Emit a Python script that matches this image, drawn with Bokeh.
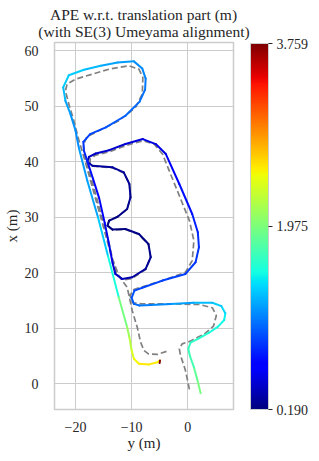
import numpy as np
from bokeh.plotting import figure
from bokeh.layouts import column
from bokeh.models import (ColumnDataSource, LinearColorMapper, ColorBar, FixedTicker,
                          PrintfTickFormatter, Spacer)
from bokeh.embed import file_html
from bokeh.resources import INLINE

# ---------------- data ----------------
# estimated trajectory: horizontal = y (m), vertical = x (m), APE error (m)
est_y = [2.3, 1.7, 1.1, 0.4, 0.1, 0.5, 2.0, 3.8, 5.4, 6.5, 6.7, 6.0, 4.4, 1.0, -3.0, -6.5,
         -8.6, -9.6, -10.0, -9.5, -8.1, -4.5, -0.4, 1.4, 2.0, 1.8, 0.8, -1.5, -3.9, -5.7,
         -8.0, -11.1, -14.0, -16.4, -17.6, -17.9, -17.0, -13.4, -11.4, -10.4, -10.2, -10.8,
         -12.5, -14.0, -14.3, -13.4, -11.1, -8.7, -7.0, -6.6, -7.5, -9.9, -11.7, -12.9,
         -13.4, -14.0, -14.8, -15.8, -16.9, -17.8, -18.5, -18.6, -17.4, -14.6, -11.1, -8.6,
         -7.6, -7.5, -8.1, -9.6, -12.5, -15.5, -18.5, -21.2, -22.2, -21.8, -20.9, -20.0, -19.4,
         -17.9, -16.0, -14.2, -12.3, -10.8, -10.4, -10.0, -9.6, -8.7, -6.9, -5.4, -4.95, -5.0]
est_x = [-1.7, 0.8, 3.0, 5.0, 6.3, 7.4, 8.2, 9.2, 10.3, 11.5, 12.7, 14.0, 14.6, 14.6, 14.4,
         14.2, 14.1, 14.4, 15.5, 16.8, 17.3, 18.6, 19.8, 21.9, 24.6, 27.3, 30.6, 36.0, 41.4,
         43.2, 44.1, 43.2, 42.1, 41.5, 40.9, 40.0, 39.3, 39.0, 38.1, 36.0, 33.6, 31.5, 30.1,
         29.4, 28.5, 27.8, 27.9, 27.0, 25.2, 22.8, 20.7, 19.2, 18.9, 19.8, 21.8, 25.0, 29.0,
         33.5, 37.0, 39.8, 42.0, 43.6, 45.0, 46.2, 48.3, 50.8, 53.0, 55.0, 56.8, 58.1, 57.9,
         57.3, 56.6, 55.6, 53.4, 51.0, 48.6, 45.6, 42.5, 36.6, 30.0, 23.0, 15.6, 10.2, 8.4,
         6.0, 4.5, 3.6, 3.5, 3.9, 4.2, 3.75]
ape = [2.05, 1.95, 1.85, 1.75, 1.7, 1.68, 1.65, 1.6, 1.55, 1.52, 1.48, 1.4, 1.35, 1.3, 1.2,
       1.12, 1.08, 1.02, 0.95, 0.93, 0.9, 0.88, 0.86, 0.84, 0.82, 0.8, 0.75, 0.68, 0.58, 0.52,
       0.5, 0.48, 0.45, 0.43, 0.4, 0.38, 0.33, 0.3, 0.28, 0.27, 0.26, 0.25, 0.23, 0.21, 0.2,
       0.19, 0.2, 0.22, 0.23, 0.24, 0.26, 0.3, 0.35, 0.4, 0.45, 0.5, 0.55, 0.6, 0.65, 0.7,
       0.75, 0.82, 0.85, 0.9, 0.95, 1.0, 1.03, 1.06, 1.1, 1.13, 1.18, 1.22, 1.28, 1.35, 1.36,
       1.3, 1.22, 1.16, 1.13, 1.18, 1.22, 1.35, 1.55, 1.95, 2.1, 2.25, 2.38, 2.5, 2.55, 2.55,
       2.5, 3.759]

# reference trajectory
ref_y = [0.3, -0.4, -1.3, -1.5, -1.0, 0.5, 3.0, 4.6, 5.1, 4.4, 2.0, -3.0, -8.1, -9.8, -10.3,
         -9.6, -4.5, -0.4, 0.8, 1.1, 0.3, -2.1, -4.5, -6.0, -8.0, -11.1, -14.0, -16.4, -17.4,
         -17.4, -16.8, -13.4, -11.4, -10.4, -10.2, -10.8, -12.5, -14.0, -14.4, -13.4, -11.1,
         -8.7, -7.0, -6.6, -7.5, -9.9, -11.5, -12.7, -13.4, -14.2, -15.3, -16.5, -17.6, -18.4,
         -18.6, -18.0, -16.4, -12.3, -9.3, -8.1, -8.0, -8.7, -10.5, -14.0, -17.0, -20.0, -21.5,
         -21.8, -21.2, -20.3, -19.3, -18.4, -17.3, -15.5, -13.6, -12.2, -10.8, -10.4, -9.9,
         -9.0, -8.4, -7.8, -7.0, -5.4, -3.3]
ref_x = [-1.0, 2.4, 5.2, 6.3, 7.2, 7.7, 9.0, 10.4, 12.3, 13.7, 14.3, 14.4, 14.4, 14.6, 15.9,
         17.0, 18.6, 20.1, 22.2, 25.8, 29.4, 35.4, 41.4, 43.2, 43.8, 42.9, 41.8, 41.2, 40.5,
         39.6, 39.2, 38.9, 38.0, 36.0, 33.6, 31.5, 30.1, 29.4, 28.5, 27.7, 27.8, 26.9, 25.1,
         22.8, 20.6, 19.0, 18.7, 19.8, 22.5, 26.0, 30.0, 34.5, 38.5, 41.5, 43.0, 44.5, 45.3,
         47.4, 49.8, 52.2, 55.2, 56.7, 57.3, 56.7, 55.8, 54.9, 54.0, 52.8, 50.4, 47.4, 43.5,
         40.5, 36.5, 30.0, 23.0, 19.3, 17.4, 15.6, 13.2, 10.2, 7.5, 6.0, 5.4, 5.3, 6.0]

x_ticks = [-20, -10, 0]
y_ticks = [0, 10, 20, 30, 40, 50, 60]
cbar_ticks = [0.190, 1.975, 3.759]
ape_min, ape_max = 0.190, 3.759
title_lines = ["APE w.r.t. translation part (m)", "(with SE(3) Umeyama alignment)"]

# ---------------- style ----------------
FONT = "Liberation Serif"
GRID = "#cccccc"
TXT = "#262626"


def jet_palette(n=256):
    f = np.linspace(0, 1, n)
    r = np.interp(f, [0, 0.35, 0.66, 0.89, 1], [0, 0, 1, 1, 0.5])
    g = np.interp(f, [0, 0.125, 0.375, 0.64, 0.91, 1], [0, 0, 1, 1, 0, 0])
    b = np.interp(f, [0, 0.11, 0.34, 0.65, 1], [0.5, 1, 1, 0, 0])
    return ["#%02x%02x%02x" % (int(round(255 * a)), int(round(255 * c)), int(round(255 * d)))
            for a, c, d in zip(r, g, b)]


palette = jet_palette()
mapper = LinearColorMapper(palette=palette, low=ape_min, high=ape_max)

p = figure(frame_width=179, frame_height=367, x_range=(-23.75, 8.16), y_range=(-4.63, 61.5),
           output_backend="svg", toolbar_location=None,
           min_border_left=44, min_border_top=10, min_border_bottom=8, min_border_right=0)

# first line indented with non-breaking spaces so that both lines look centred
p.title.text = "\u00a0\u00a0\u00a0" + title_lines[0] + "\n" + title_lines[1]
p.title.align = "center"
p.title.text_font = FONT
p.title.text_font_size = "15.5px"
p.title.text_font_style = "normal"
p.title.text_color = TXT
p.title.text_line_height = 1.0
p.title.standoff = 5

p.background_fill_color = "white"
p.outline_line_color = GRID
p.outline_line_width = 1.5

for ax in (p.xaxis, p.yaxis):
    ax.axis_line_color = None
    ax.major_tick_line_color = None
    ax.minor_tick_line_color = None
    ax.major_label_text_font = FONT
    ax.major_label_text_font_size = "14px"
    ax.major_label_text_color = TXT
    ax.axis_label_text_font = FONT
    ax.axis_label_text_font_size = "15px"
    ax.axis_label_text_font_style = "normal"
    ax.axis_label_text_color = TXT

p.xaxis.ticker = FixedTicker(ticks=x_ticks)
p.yaxis.ticker = FixedTicker(ticks=y_ticks)
p.xaxis.major_label_overrides = {t: ("\u2212%d" % -t if t < 0 else str(t)) for t in x_ticks}
p.xaxis.axis_label = "y (m)"
p.yaxis.axis_label = "x (m)"
p.xaxis.major_label_standoff = 6
p.yaxis.major_label_standoff = 10
p.xaxis.axis_label_standoff = 0
p.yaxis.axis_label_standoff = 2

p.xgrid.grid_line_color = GRID
p.ygrid.grid_line_color = GRID
p.xgrid.grid_line_width = 1
p.ygrid.grid_line_width = 1

# reference (dashed gray)
p.line(ref_y, ref_x, line_color="#808080", line_dash="6 3", line_width=1.7)

# estimate colored by APE
seg = ColumnDataSource(dict(x0=est_y[:-1], y0=est_x[:-1], x1=est_y[1:], y1=est_x[1:],
                            err=ape[1:]))
p.segment("x0", "y0", "x1", "y1", source=seg,
          line_color={"field": "err", "transform": mapper},
          line_width=2, line_cap="round")

cb = ColorBar(color_mapper=mapper, ticker=FixedTicker(ticks=cbar_ticks),
              formatter=PrintfTickFormatter(format="%.3f"),
              width=18, height=366, padding=0, margin=0,
              major_label_text_font=FONT, major_label_text_font_size="14px",
              major_label_text_color=TXT,
              major_tick_in=0, major_tick_out=4, major_tick_line_color=TXT,
              minor_tick_line_color=None, bar_line_color=GRID, bar_line_width=1,
              label_standoff=4, background_fill_alpha=0, border_line_color=None,
              location=(17, 0))
p.add_layout(cb, "right")

layout = column(Spacer(height=1), p)
open("out.html", "w").write(file_html(layout, INLINE))
